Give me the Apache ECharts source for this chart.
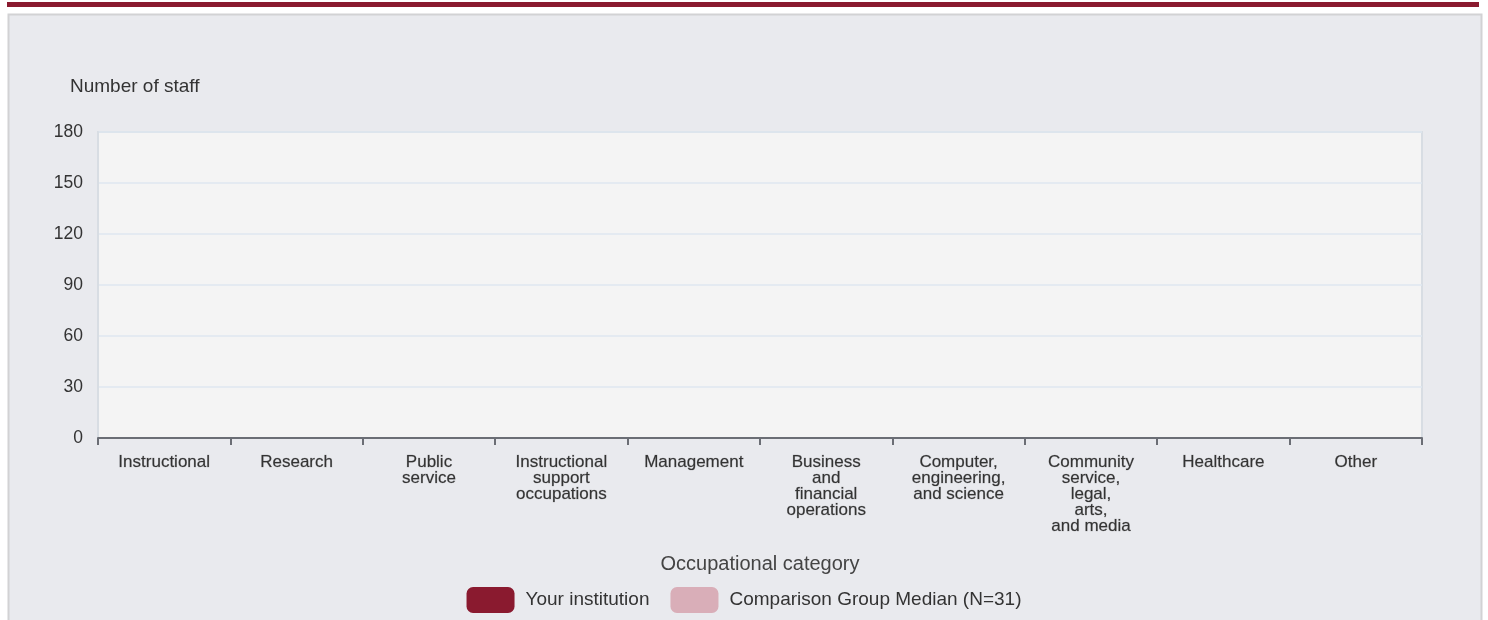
<html>
<head>
    <meta charset="utf-8">
    <script src="https://cdn.jsdelivr.net/npm/echarts@6/dist/echarts.min.js"></script>
    <style>
        html, body { margin: 0; padding: 0; background: #fff; }
        #main { width: 1488px; height: 620px; }
    </style>
</head>
<body>
<div id="main"></div>
<script>
    // categories and (empty) values as shown in the picture
    var categories = [
        'Instructional',
        'Research',
        'Public\nservice',
        'Instructional\nsupport\noccupations',
        'Management',
        'Business\nand\nfinancial\noperations',
        'Computer,\nengineering,\nand science',
        'Community\nservice,\nlegal,\narts,\nand media',
        'Healthcare',
        'Other'
    ];
    var institutionValues = [0, 0, 0, 0, 0, 0, 0, 0, 0, 0];
    var medianValues = [0, 0, 0, 0, 0, 0, 0, 0, 0, 0];
    var yTicks = [0, 30, 60, 90, 120, 150, 180];

    var font = "'Liberation Sans', Arial, sans-serif";
    var chart = echarts.init(document.getElementById('main'));

    var option = {
        backgroundColor: '#fff',
        textStyle: { fontFamily: font },
        graphic: [
            {
                type: 'rect', z: -10, silent: true,
                shape: { x: 7, y: 2, width: 1472, height: 5 },
                style: { fill: '#8a1a2f' }
            },
            {
                type: 'rect', z: -10, silent: true,
                shape: { x: 8.5, y: 14.5, width: 1473, height: 610 },
                style: { fill: '#e9eaee', stroke: '#d2d2d4', lineWidth: 2 }
            }
        ],
        title: {
            text: 'Number of staff',
            left: 65,
            top: 72,
            textStyle: { fontSize: 19, fontWeight: 'normal', color: '#333', fontFamily: font }
        },
        legend: {
            left: 'center',
            top: 582,
            itemWidth: 48,
            itemHeight: 26,
            itemGap: 21,
            icon: 'roundRect',
            textStyle: { fontSize: 19, color: '#333', fontFamily: font, padding: [0, 0, 0, 6] },
            data: ['Your institution', 'Comparison Group Median (N=31)']
        },
        grid: {
            left: 98,
            top: 132,
            right: 66,
            bottom: 182,
            show: true,
            backgroundColor: '#f4f4f4',
            borderColor: '#d8dde3',
            borderWidth: 2
        },
        xAxis: {
            type: 'category',
            data: categories,
            name: 'Occupational category',
            nameLocation: 'middle',
            nameGap: 116,
            nameTextStyle: { fontSize: 20, color: '#444', fontFamily: font },
            axisLine: { lineStyle: { color: '#6b6e75', width: 2 } },
            axisTick: { show: true, length: 7, lineStyle: { color: '#6b6e75', width: 2 } },
            axisLabel: {
                interval: 0,
                margin: 16,
                fontSize: 17,
                lineHeight: 16,
                color: '#333',
                fontFamily: font,
                textBorderColor: 'rgba(60,60,60,0.35)',
                textBorderWidth: 0.6
            }
        },
        yAxis: {
            type: 'value',
            min: 0,
            max: yTicks[yTicks.length - 1],
            interval: yTicks[1] - yTicks[0],
            axisLine: { show: true, lineStyle: { color: '#d8dde3', width: 2 } },
            axisTick: { show: false },
            axisLabel: { fontSize: 17.5, color: '#333', margin: 15, fontFamily: font },
            splitLine: { lineStyle: { color: '#dfe7f0', width: 1.5 } }
        },
        series: [
            {
                name: 'Your institution',
                type: 'bar',
                data: institutionValues,
                itemStyle: { color: '#8a1a2f', borderRadius: 4 }
            },
            {
                name: 'Comparison Group Median (N=31)',
                type: 'bar',
                data: medianValues,
                itemStyle: { color: '#d9aeb8', borderRadius: 4 }
            }
        ]
    };

    chart.setOption(option);
</script>
</body>
</html>
